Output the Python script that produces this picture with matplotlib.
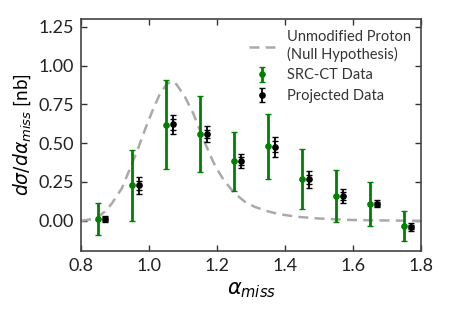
import matplotlib
matplotlib.use("Agg")
import matplotlib.pyplot as plt
import numpy as np

plt.rcParams['font.family'] = ['Lato', 'DejaVu Sans']
plt.rcParams['mathtext.fontset'] = 'dejavusans'

# SRC-CT data
src_x = [0.85, 0.95, 1.05, 1.15, 1.25, 1.35, 1.45, 1.55, 1.65, 1.75]
src_y = [0.012, 0.228, 0.62, 0.558, 0.385, 0.48, 0.268, 0.16, 0.108, -0.035]
src_err = [0.105, 0.23, 0.285, 0.243, 0.19, 0.21, 0.195, 0.17, 0.144, 0.095]

# Projected data
proj_x = [0.87, 0.97, 1.07, 1.17, 1.27, 1.37, 1.47, 1.57, 1.67, 1.77]
proj_y = [0.012, 0.228, 0.622, 0.56, 0.385, 0.478, 0.267, 0.16, 0.11, -0.038]
proj_err_tot = [0.022, 0.055, 0.06, 0.05, 0.045, 0.065, 0.055, 0.047, 0.022, 0.025]
proj_err_stat = [0.012, 0.03, 0.035, 0.028, 0.025, 0.035, 0.03, 0.026, 0.012, 0.013]

# Null hypothesis curve
null_x = [0.80, 0.83, 0.85, 0.87, 0.89, 0.92, 0.95, 0.97, 0.99, 1.01, 1.03, 1.05,
          1.065, 1.08, 1.105, 1.13, 1.157, 1.18, 1.195, 1.22, 1.25, 1.28, 1.31,
          1.35, 1.39, 1.44, 1.49, 1.55, 1.60, 1.70, 1.80]
null_y = [0.00, 0.01, 0.025, 0.06, 0.11, 0.21, 0.37, 0.48, 0.60, 0.71, 0.81, 0.875,
          0.90, 0.88, 0.80, 0.69, 0.54, 0.42, 0.35, 0.26, 0.18, 0.125, 0.09,
          0.06, 0.04, 0.025, 0.016, 0.009, 0.005, 0.002, 0.0]

xticks = [0.8, 1.0, 1.2, 1.4, 1.6, 1.8]
yticks = [0.0, 0.25, 0.5, 0.75, 1.0, 1.25]

fig = plt.figure(figsize=(4.53, 3.17), dpi=100)
ax = fig.add_axes([0.179, 0.208, 0.751, 0.732])

ax.plot(null_x, null_y, ls=(0, (4, 2.5)), color='#aaaaaa', lw=1.8,
        label='Unmodified Proton\n(Null Hypothesis)')
ax.errorbar(src_x, src_y, yerr=src_err, fmt='o', color='green', ms=3.8,
            elinewidth=2, capsize=2.5, capthick=1, label='SRC-CT Data')
ax.errorbar(proj_x, proj_y, yerr=proj_err_stat, fmt='none', ecolor='black',
            elinewidth=1.3, capsize=2.2, capthick=1)
ax.errorbar(proj_x, proj_y, yerr=proj_err_tot, fmt='o', color='black', ms=3.8,
            elinewidth=1.3, capsize=2.2, capthick=1, label='Projected Data')

ax.set_xlim(0.8, 1.8)
ax.set_ylim(-0.195, 1.3)
ax.set_xticks(xticks)
ax.set_yticks(yticks)
ax.set_xticklabels([f"{v:.1f}" for v in xticks])
ax.set_yticklabels([f"{v:.2f}" for v in yticks])
ax.tick_params(direction='in', top=True, right=True, labelsize=13,
               length=4, width=1, colors='#333333', labelcolor='#222222', pad=5)
for s in ax.spines.values():
    s.set_color('#444444')
    s.set_linewidth(1.2)

ax.set_xlabel(r'$\alpha_{miss}$', fontsize=15, labelpad=4)
ax.set_ylabel(r'$d\sigma/d\alpha_{miss}$ [nb]', fontsize=13.5, labelpad=4)

leg = ax.legend(loc='upper right', frameon=False, fontsize=10.5,
                handlelength=1.8, borderaxespad=0.3, labelspacing=0.45,
                handletextpad=0.8, bbox_to_anchor=(1.0, 0.995))
for t in leg.get_texts():
    t.set_color('#333333')

fig.savefig('out.png', dpi=100)
